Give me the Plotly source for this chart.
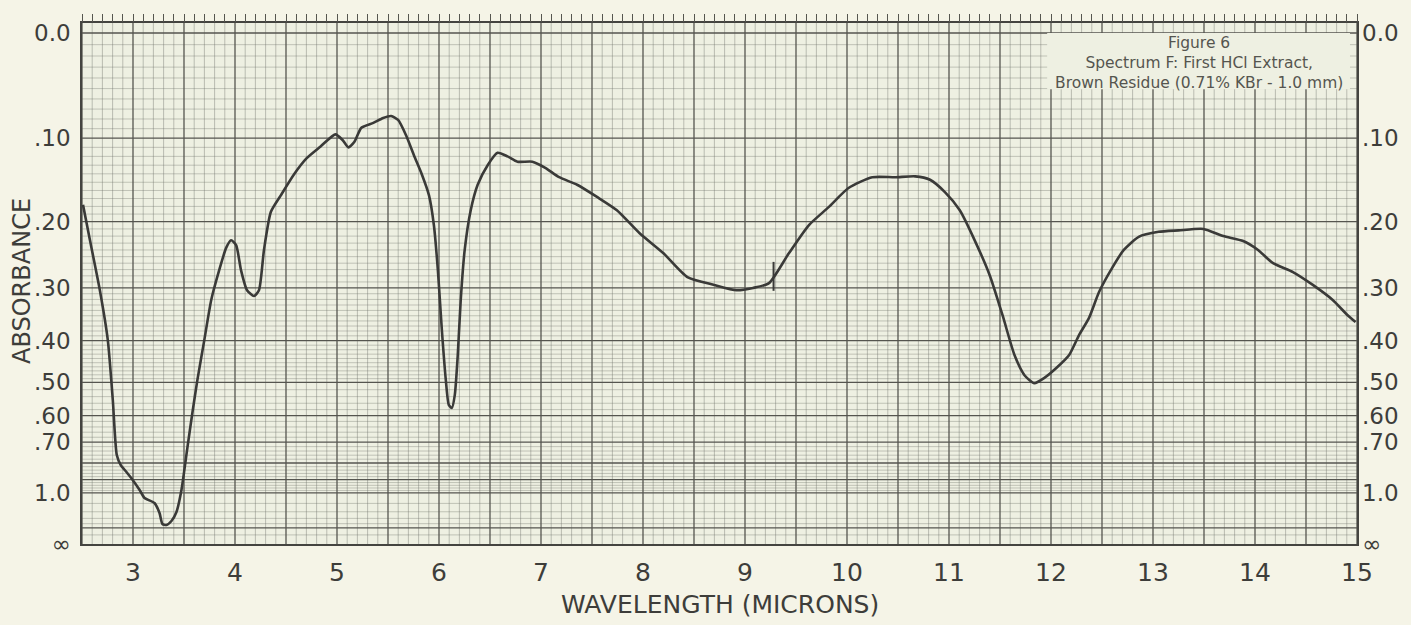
import math
import plotly.graph_objects as go

# ---------------- data ----------------
wavelength_um = [
    2.51, 2.578, 2.675, 2.753, 2.802, 2.841, 2.880, 2.919, 2.997, 3.065,
    3.114, 3.211, 3.260, 3.289, 3.328, 3.377, 3.426, 3.475, 3.534, 3.582,
    3.631, 3.699, 3.767, 3.845, 3.913, 3.962, 4.011, 4.059, 4.118, 4.186,
    4.235, 4.284, 4.352, 4.449, 4.576, 4.703, 4.839, 4.985, 5.054, 5.112,
    5.171, 5.239, 5.356, 5.453, 5.531, 5.599, 5.677, 5.755, 5.833, 5.902,
    5.950, 5.989, 6.028, 6.067, 6.096, 6.126, 6.155, 6.184, 6.213, 6.252,
    6.311, 6.379, 6.477, 6.574, 6.672, 6.769, 6.915, 7.042, 7.178, 7.354,
    7.549, 7.744, 7.967, 8.201, 8.435, 8.698, 8.918, 9.079, 9.235, 9.430,
    9.625, 9.820, 10.015, 10.248, 10.473, 10.668, 10.814, 10.960, 11.106, 11.252,
    11.399, 11.525, 11.642, 11.740, 11.837, 11.935, 12.052, 12.178, 12.276, 12.373,
    12.471, 12.597, 12.714, 12.860, 13.055, 13.251, 13.494, 13.689, 13.884, 14.030,
    14.177, 14.372, 14.567, 14.762, 14.908, 14.986,
]
absorbance = [
    0.178, 0.226, 0.304, 0.399, 0.550, 0.759, 0.811, 0.839, 0.902, 0.976,
    1.046, 1.096, 1.217, 1.407, 1.430, 1.347, 1.203, 0.976, 0.722, 0.591,
    0.494, 0.399, 0.321, 0.271, 0.237, 0.226, 0.233, 0.271, 0.304, 0.314,
    0.304, 0.240, 0.187, 0.166, 0.141, 0.122, 0.109, 0.096, 0.102, 0.110,
    0.104, 0.089, 0.084, 0.079, 0.077, 0.081, 0.097, 0.119, 0.141, 0.166,
    0.205, 0.271, 0.378, 0.494, 0.565, 0.575, 0.535, 0.432, 0.321, 0.240,
    0.185, 0.153, 0.130, 0.116, 0.120, 0.126, 0.126, 0.133, 0.144, 0.153,
    0.168, 0.185, 0.216, 0.245, 0.282, 0.295, 0.304, 0.300, 0.292, 0.245,
    0.205, 0.181, 0.157, 0.144, 0.144, 0.143, 0.147, 0.162, 0.185, 0.226,
    0.279, 0.349, 0.432, 0.481, 0.502, 0.488, 0.463, 0.432, 0.388, 0.354,
    0.307, 0.268, 0.240, 0.221, 0.214, 0.212, 0.210, 0.220, 0.227, 0.240,
    0.260, 0.274, 0.295, 0.321, 0.349, 0.362,
]
# short pen mark drawn across the trace near 9.3 microns
mark_wavelength = [9.28, 9.28]
mark_absorbance = [0.258, 0.305]

x_tick_values = [3, 4, 5, 6, 7, 8, 9, 10, 11, 12, 13, 14, 15]
abs_tick_values = [0.0, 0.1, 0.2, 0.3, 0.4, 0.5, 0.6, 0.7, 1.0, math.inf]
abs_tick_labels = ["0.0", ".10", ".20", ".30", ".40", ".50", ".60", ".70", "1.0", "∞"]

major_abs_grid = [0.0, 0.1, 0.2, 0.3, 0.4, 0.5, 0.6, 0.7, 0.8, 0.9, 1.0, 1.5]
minor_abs_grid = ([round(0.01 * i, 2) for i in range(1, 50)]
                  + [round(0.5 + 0.02 * i, 2) for i in range(1, 25)]
                  + [1.1, 1.2, 1.3, 1.4, 1.75])

X_MIN, X_MAX = 2.5, 15.0
T_TOP = 1.0196  # chart frame slightly above zero absorbance


def to_t(a):
    """Absorbance -> transmittance (the chart's linear vertical scale)."""
    return 0.0 if math.isinf(a) else 10 ** (-a)


# ---------------- grid ----------------
def hlines(levels, skip=()):
    xs, ys = [], []
    for a in levels:
        if a in skip:
            continue
        t = to_t(a)
        xs += [X_MIN, X_MAX, None]
        ys += [t, t, None]
    return xs, ys


def vlines(step, skip_step=None):
    xs, ys = [], []
    n = int(round((X_MAX - X_MIN) / step))
    for i in range(n + 1):
        w = round(X_MIN + i * step, 3)
        if skip_step and abs(w / skip_step - round(w / skip_step)) < 1e-6:
            continue
        xs += [w, w, None]
        ys += [0, T_TOP, None]
    return xs, ys


MINOR_C = "rgba(110,112,104,0.45)"
MAJOR_C = "#55554f"
BG = "#f5f4e7"
PLOT_BG = "#eef0e2"

fig = go.Figure()
gx, gy = hlines(minor_abs_grid, skip=major_abs_grid)
fig.add_trace(go.Scatter(x=gx, y=gy, mode="lines", line=dict(color=MINOR_C, width=0.8),
                         hoverinfo="skip", showlegend=False))
gx, gy = vlines(0.1, skip_step=0.5)
fig.add_trace(go.Scatter(x=gx, y=gy, mode="lines", line=dict(color=MINOR_C, width=0.9),
                         hoverinfo="skip", showlegend=False))
gx, gy = hlines(major_abs_grid)
fig.add_trace(go.Scatter(x=gx, y=gy, mode="lines", line=dict(color=MAJOR_C, width=1.3),
                         hoverinfo="skip", showlegend=False))
gx, gy = vlines(0.5)
fig.add_trace(go.Scatter(x=gx, y=gy, mode="lines", line=dict(color=MAJOR_C, width=1.3),
                         hoverinfo="skip", showlegend=False))

# ---------------- spectrum ----------------
fig.add_trace(go.Scatter(
    x=wavelength_um, y=[to_t(a) for a in absorbance], mode="lines",
    line=dict(color="#3a3a38", width=2.6, shape="spline", smoothing=0.6),
    showlegend=False))
fig.add_trace(go.Scatter(
    x=mark_wavelength, y=[to_t(a) for a in mark_absorbance], mode="lines",
    line=dict(color="#3a3a38", width=2), showlegend=False))

# invisible helper to attach the mirrored axes
fig.add_trace(go.Scatter(x=[X_MIN], y=[0.5], xaxis="x2", yaxis="y2", mode="markers",
                         marker=dict(opacity=0), hoverinfo="skip", showlegend=False))

TXT = "#3d3d3a"
FONT = "DejaVu Sans"
tick_t = [to_t(a) for a in abs_tick_values]

fig.update_layout(
    width=1411, height=625,
    margin=dict(l=82, r=47, t=23, b=81),
    paper_bgcolor=BG,
    plot_bgcolor=PLOT_BG,
    font=dict(family=FONT, color=TXT),
    xaxis=dict(range=[X_MIN, X_MAX], tickvals=x_tick_values,
               ticktext=[str(v) for v in x_tick_values],
               showgrid=False, zeroline=False, ticks="", ticklabelstandoff=5,
               tickfont=dict(size=25, color=TXT),
               showline=True, linecolor="#444440", linewidth=1.6, mirror=True),
    xaxis2=dict(range=[X_MIN, X_MAX], overlaying="x", side="top", showticklabels=False,
                showgrid=False, zeroline=False, ticks="outside", ticklen=8,
                tickwidth=1.2, tickcolor="#55554f", dtick=0.1, tick0=2.5),
    yaxis=dict(range=[0, T_TOP], tickvals=tick_t, ticktext=abs_tick_labels,
               showgrid=False, zeroline=False, ticks="", ticklabelstandoff=5,
               tickfont=dict(size=23, color=TXT),
               showline=True, linecolor="#444440", linewidth=1.6, mirror=True),
    yaxis2=dict(range=[0, T_TOP], overlaying="y", side="right", tickvals=tick_t,
                ticktext=abs_tick_labels, showgrid=False, zeroline=False, ticks="",
                ticklabelstandoff=4, tickfont=dict(size=23, color=TXT)),
)

# caption box in upper right
fig.add_shape(type="rect", xref="paper", yref="paper", x0=0.757, x1=0.9945,
              y0=0.873, y1=0.981, fillcolor=PLOT_BG, line=dict(width=0), layer="above")
fig.add_annotation(xref="paper", yref="paper", x=0.876, y=0.924,
                   xanchor="center", yanchor="middle", showarrow=False,
                   text="Figure 6<br>Spectrum F: First HCl Extract,<br>Brown Residue (0.71% KBr - 1.0 mm)",
                   font=dict(family=FONT, size=15.5, color="#55554f"), align="center")

# axis titles
fig.add_annotation(xref="paper", yref="paper", x=-0.047, y=0.505,
                   xanchor="center", yanchor="middle", showarrow=False,
                   text="ABSORBANCE", textangle=-90,
                   font=dict(family=FONT, size=24, color=TXT))
fig.add_annotation(xref="paper", yref="paper", x=0.5, y=-0.117,
                   xanchor="center", yanchor="middle",
                   showarrow=False, text="WAVELENGTH (MICRONS)",
                   font=dict(family=FONT, size=25, color=TXT))

fig.write_html(
    "out.html",
    config={"displayModeBar": False},
    post_script=f"document.body.style.margin='0';document.body.style.background='{BG}';",
)
